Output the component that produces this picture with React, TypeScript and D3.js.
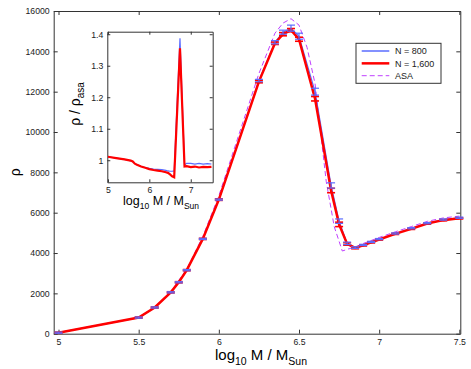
import { useEffect, useRef } from 'react';
import * as d3 from 'd3';

// main panel sample points (log10 M)
const massBins = [5, 5.5, 5.6, 5.7, 5.75, 5.8, 5.9, 6.0, 6.25, 6.35, 6.4, 6.45, 6.5, 6.6, 6.7, 6.75, 6.8, 6.85, 6.9, 6.95, 7.0, 7.1, 7.2, 7.3, 7.4, 7.5];
const rho800 = [50, 800, 1300, 2050, 2550, 3150, 4700, 6650, 12550, 14450, 14950, 15150, 14750, 12000, 7350, 5580, 4480, 4270, 4400, 4550, 4690, 4970, 5230, 5480, 5660, 5750];
const err800 = [30, 30, 30, 30, 30, 30, 30, 30, 60, 80, 100, 150, 150, 170, 130, 110, 60, 40, 30, 30, 30, 30, 30, 30, 30, 30];
const rho1600 = [50, 800, 1300, 2050, 2550, 3150, 4700, 6650, 12500, 14400, 14850, 15050, 14600, 11650, 7100, 5420, 4450, 4250, 4380, 4530, 4670, 4950, 5200, 5460, 5630, 5720];
const err1600 = [30, 30, 30, 30, 30, 30, 30, 40, 60, 60, 80, 80, 100, 110, 110, 110, 60, 40, 30, 30, 30, 30, 30, 30, 30, 30];

// ASA model curve
const asaMass = [5, 5.5, 5.6, 5.7, 5.8, 5.9, 6.0, 6.25, 6.35, 6.4, 6.45, 6.5, 6.55, 6.6, 6.67, 6.72, 6.77, 6.8, 6.85, 6.9, 7.0, 7.1, 7.2, 7.3, 7.4, 7.5];
const asaRho = [50, 800, 1310, 2080, 3210, 4820, 6840, 12900, 14900, 15400, 15620, 15300, 14200, 12400, 7540, 5300, 4100, 4180, 4300, 4470, 4770, 5050, 5310, 5570, 5740, 5830];

// inset: ratio to ASA
const ratioMass = [5, 5.2, 5.4, 5.55, 5.6, 5.65, 5.7, 5.8, 5.9, 6.0, 6.1, 6.2, 6.3, 6.4, 6.45, 6.5, 6.55, 6.6, 6.74, 6.85, 6.9, 7.0, 7.1, 7.2, 7.3, 7.4, 7.5];
const ratio800 = [1.011, 1.007, 1.003, 0.998, 0.995, 0.99, 0.986, 0.981, 0.977, 0.974, 0.972, 0.971, 0.97, 0.968, 0.966, 0.965, 0.965, 0.966, 1.387, 0.985, 0.99, 0.99, 0.988, 0.99, 0.988, 0.989, 0.988];
const ratio1600 = [1.011, 1.007, 1.003, 0.999, 0.996, 0.989, 0.986, 0.98, 0.976, 0.972, 0.969, 0.967, 0.965, 0.962, 0.96, 0.955, 0.949, 0.946, 1.355, 0.98, 0.981, 0.978, 0.98, 0.977, 0.979, 0.978, 0.979];

const mainXTicks = [5, 5.5, 6, 6.5, 7, 7.5];
const mainYTicks = [0, 2000, 4000, 6000, 8000, 10000, 12000, 14000, 16000];
const insetXTicks = [5, 6, 7];
const insetYTicks = [1, 1.1, 1.2, 1.3, 1.4];

const legendLabels = ['N = 800', 'N = 1,600', 'ASA'];

const BLUE = '#5a6cff';
const RED = '#ff0000';
const PURPLE = '#c040ff';
const AXIS = '#333';
const FONT = 'Liberation Sans, Arial, Helvetica, sans-serif';

const App = () => {
  const svgRef = useRef<SVGSVGElement>(null);

  useEffect(() => {
    const svg = d3.select(svgRef.current);
    svg.selectAll('*').remove();

    // Main axes box
    const box = { left: 53.7, right: 460.3, top: 11, bottom: 333.7 };
    const x = d3.scaleLinear().domain([4.97, 7.506]).range([box.left, box.right]);
    const y = d3.scaleLinear().domain([0, 16000]).range([box.bottom, box.top]);

    const styleAxis = (g: any) => {
      g.select('.domain').attr('stroke', AXIS);
      g.selectAll('.tick line').attr('stroke', AXIS);
      g.selectAll('.tick text').attr('fill', '#222').style('font-size', '8.7px').style('font-family', FONT);
    };

    svg.append('g')
      .attr('transform', `translate(0,${box.bottom})`)
      .call(d3.axisBottom(x).tickValues(mainXTicks).tickSize(-4).tickSizeOuter(0).tickPadding(5).tickFormat(d3.format('')))
      .call(styleAxis);
    svg.append('g')
      .attr('transform', `translate(0,${box.top})`)
      .call(d3.axisTop(x).tickValues(mainXTicks).tickSize(-4).tickSizeOuter(0).tickFormat(() => ''))
      .call(styleAxis);
    svg.append('g')
      .attr('transform', `translate(${box.left},0)`)
      .call(d3.axisLeft(y).tickValues(mainYTicks).tickSize(-4).tickSizeOuter(0).tickPadding(4).tickFormat(d3.format('d')))
      .call(styleAxis);
    svg.append('g')
      .attr('transform', `translate(${box.right},0)`)
      .call(d3.axisRight(y).tickValues(mainYTicks).tickSize(-4).tickSizeOuter(0).tickFormat(() => ''))
      .call(styleAxis);

    // Curves
    const asaLine = d3.line<number>().x((d, i) => x(asaMass[i])).y(d => y(d));
    const binLine = d3.line<number>().x((d, i) => x(massBins[i])).y(d => y(d));

    svg.append('path').attr('d', asaLine(asaRho)).attr('fill', 'none')
      .attr('stroke', PURPLE).attr('stroke-width', 1).attr('stroke-dasharray', '5,3');
    svg.append('path').attr('d', binLine(rho800)).attr('fill', 'none')
      .attr('stroke', BLUE).attr('stroke-width', 1.2);
    svg.append('path').attr('d', binLine(rho1600)).attr('fill', 'none')
      .attr('stroke', RED).attr('stroke-width', 2.5);

    // Error bars
    const drawErrors = (vals: number[], errs: number[], color: string, w: number) => {
      const g = svg.append('g').attr('stroke', color).attr('stroke-width', w);
      vals.forEach((v, i) => {
        const cx = x(massBins[i]);
        const y0 = y(v - errs[i]);
        const y1 = y(v + errs[i]);
        g.append('line').attr('x1', cx).attr('x2', cx).attr('y1', y0).attr('y2', y1);
        [y0, y1].forEach(yy => {
          g.append('line').attr('x1', cx - 4).attr('x2', cx + 4).attr('y1', yy).attr('y2', yy);
        });
      });
    };
    drawErrors(rho1600, err1600, RED, 1.6);
    drawErrors(rho800, err800, BLUE, 1.2);

    // Axis labels
    const xl = svg.append('text').attr('x', (box.left + box.right) / 2 + 4).attr('y', 359.5)
      .attr('text-anchor', 'middle').style('font-family', FONT).style('font-size', '15px').attr('fill', '#000');
    xl.append('tspan').text('log');
    xl.append('tspan').attr('dy', 5).style('font-size', '10.5px').text('10');
    xl.append('tspan').attr('dy', -5).text('\u00a0M / M');
    xl.append('tspan').attr('dy', 5).style('font-size', '10.5px').text('Sun');

    svg.append('text').attr('transform', `translate(20,${(box.top + box.bottom) / 2}) rotate(-90)`)
      .attr('text-anchor', 'middle').style('font-family', FONT).style('font-size', '14px').text('\u03c1');

    // Legend
    const lg = svg.append('g');
    lg.append('rect').attr('x', 356).attr('y', 43.3).attr('width', 85).attr('height', 40)
      .attr('fill', '#fff').attr('stroke', AXIS).attr('stroke-width', 1);
    const legendStyles = [
      { color: BLUE, width: 1.5, dash: null },
      { color: RED, width: 2.5, dash: null },
      { color: PURPLE, width: 1, dash: '5,3' },
    ];
    legendLabels.forEach((label, i) => {
      const ly = 51 + i * 12.35;
      const s = legendStyles[i];
      const l = lg.append('line').attr('x1', 361.7).attr('x2', 389.3).attr('y1', ly).attr('y2', ly)
        .attr('stroke', s.color).attr('stroke-width', s.width);
      if (s.dash) l.attr('stroke-dasharray', s.dash);
      lg.append('text').attr('x', 395).attr('y', ly + 3.2).style('font-family', FONT)
        .style('font-size', '9px').attr('fill', '#222').text(label);
    });

    // Inset
    const ib = { left: 107.3, right: 212.7, top: 31.7, bottom: 182.3 };
    const ix = d3.scaleLinear().domain([4.985, 7.53]).range([ib.left, ib.right]);
    const iy = d3.scaleLinear().domain([0.93, 1.408]).range([ib.bottom, ib.top]);
    svg.append('rect').attr('x', ib.left).attr('y', ib.top).attr('width', ib.right - ib.left)
      .attr('height', ib.bottom - ib.top).attr('fill', '#fff');

    svg.append('g')
      .attr('transform', `translate(0,${ib.bottom})`)
      .call(d3.axisBottom(ix).tickValues(insetXTicks).tickSize(-3).tickSizeOuter(0).tickPadding(5).tickFormat(d3.format('')))
      .call(styleAxis);
    svg.append('g')
      .attr('transform', `translate(0,${ib.top})`)
      .call(d3.axisTop(ix).tickValues(insetXTicks).tickSize(-3).tickSizeOuter(0).tickFormat(() => ''))
      .call(styleAxis);
    svg.append('g')
      .attr('transform', `translate(${ib.left},0)`)
      .call(d3.axisLeft(iy).tickValues(insetYTicks).tickSize(-3).tickSizeOuter(0).tickPadding(4).tickFormat(d => String(d)))
      .call(styleAxis);
    svg.append('g')
      .attr('transform', `translate(${ib.right},0)`)
      .call(d3.axisRight(iy).tickValues(insetYTicks).tickSize(-3).tickSizeOuter(0).tickFormat(() => ''))
      .call(styleAxis);

    const ratioLine = d3.line<number>().x((d, i) => ix(ratioMass[i])).y(d => iy(d));
    svg.append('path').attr('d', ratioLine(ratio800)).attr('fill', 'none')
      .attr('stroke', BLUE).attr('stroke-width', 1.2);
    svg.append('path').attr('d', ratioLine(ratio1600)).attr('fill', 'none')
      .attr('stroke', RED).attr('stroke-width', 2.2);

    const il = svg.append('text').attr('x', (ib.left + ib.right) / 2 + 1).attr('y', 205)
      .attr('text-anchor', 'middle').style('font-family', FONT).style('font-size', '12.5px');
    il.append('tspan').text('log');
    il.append('tspan').attr('dy', 4).style('font-size', '8.5px').text('10');
    il.append('tspan').attr('dy', -4).text('\u00a0M / M');
    il.append('tspan').attr('dy', 4).style('font-size', '8.5px').text('Sun');

    const yl = svg.append('text').attr('transform', `translate(80,104) rotate(-90)`)
      .attr('text-anchor', 'middle').style('font-family', FONT).style('font-size', '14px');
    yl.append('tspan').text('\u03c1 / \u03c1');
    yl.append('tspan').attr('dy', 4).style('font-size', '10px').text('asa');
  }, []);

  return (
    <svg ref={svgRef} width={471} height={369}
      style={{ position: 'absolute', left: 0, top: 0, background: '#fff' }} />
  );
};

export default App;
